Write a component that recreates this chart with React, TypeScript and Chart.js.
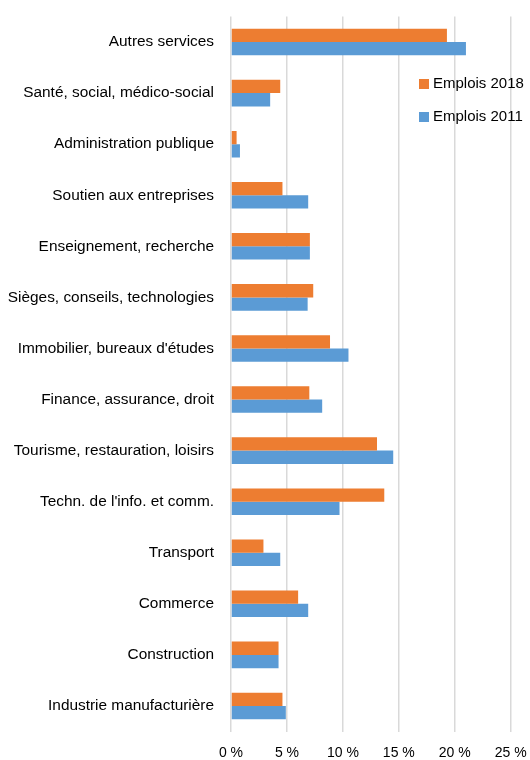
import React, { useEffect, useRef } from "react";
import { Chart, registerables } from "chart.js";

Chart.register(...registerables);

const categories = [
  "Autres services",
  "Santé, social, médico-social",
  "Administration publique",
  "Soutien aux entreprises",
  "Enseignement, recherche",
  "Sièges, conseils, technologies",
  "Immobilier, bureaux d'études",
  "Finance, assurance, droit",
  "Tourisme, restauration, loisirs",
  "Techn. de l'info. et comm.",
  "Transport",
  "Commerce",
  "Construction",
  "Industrie manufacturière",
];

const emplois2018 = [19.3, 4.4, 0.5, 4.6, 7.05, 7.35, 8.85, 7.0, 13.05, 13.7, 2.9, 6.0, 4.25, 4.6];
const emplois2011 = [21.0, 3.5, 0.8, 6.9, 7.05, 6.85, 10.5, 8.15, 14.5, 9.7, 4.4, 6.9, 4.25, 4.9];

const xTicks = [0, 5, 10, 15, 20, 25];
const seriesNames = ["Emplois 2018", "Emplois 2011"];
const seriesColors = ["#ED7D31", "#5B9BD5"];

const FONT = "'Liberation Sans', Arial, sans-serif";

const legendPlugin = {
  id: "insideLegend",
  afterDraw(chart: any) {
    const ctx = chart.ctx;
    ctx.save();
    ctx.font = `15px ${FONT}`;
    ctx.textBaseline = "middle";
    ctx.textAlign = "left";
    seriesNames.forEach((name, i) => {
      const y = 84 + i * 33;
      ctx.fillStyle = seriesColors[i];
      ctx.fillRect(419, y - 5, 10, 10);
      ctx.fillStyle = "#000";
      ctx.fillText(name, 433, y);
    });
    ctx.restore();
  },
};

export default function App() {
  const ref = useRef<HTMLCanvasElement | null>(null);
  useEffect(() => {
    if (!ref.current) return;
    const chart = new Chart(ref.current, {
      type: "bar",
      data: {
        labels: categories,
        datasets: [
          {
            label: seriesNames[0],
            data: emplois2018,
            backgroundColor: seriesColors[0],
            barPercentage: 1,
            categoryPercentage: 0.52,
          },
          {
            label: seriesNames[1],
            data: emplois2011,
            backgroundColor: seriesColors[1],
            barPercentage: 1,
            categoryPercentage: 0.52,
          },
        ],
      },
      options: {
        indexAxis: "y",
        animation: false,
        responsive: true,
        maintainAspectRatio: false,
        layout: { padding: { top: 16.5, right: 19.3, left: 0, bottom: 0 } },
        plugins: {
          legend: { display: false },
          tooltip: { enabled: false },
        },
        scales: {
          x: {
            min: 0,
            max: 25,
            afterBuildTicks: (axis: any) => {
              axis.ticks = xTicks.map((v) => ({ value: v }));
            },
            afterFit: (axis: any) => {
              axis.height = 28.5;
              axis.paddingLeft = 0;
              axis.paddingRight = 0;
              axis.paddingTop = 0;
              axis.paddingBottom = 0;
            },
            grid: { color: "#d9d9d9", lineWidth: 1.5, drawTicks: false },
            border: { display: false },
            ticks: {
              padding: 13,
              color: "#000",
              font: { family: FONT, size: 14 },
              callback: (v: any) => `${v} %`,
            },
          },
          y: {
            afterFit: (axis: any) => {
              axis.width = 231;
              axis.paddingLeft = 0;
              axis.paddingRight = 0;
              axis.paddingTop = 0;
              axis.paddingBottom = 0;
            },
            grid: { display: false, drawTicks: false },
            border: { display: false },
            ticks: {
              padding: 17,
              color: "#000",
              font: { family: FONT, size: 15.4 },
              autoSkip: false,
            },
          },
        },
      },
      plugins: [legendPlugin],
    });
    return () => chart.destroy();
  }, []);
  return (
    <div style={{ position: "absolute", left: 0, top: 0, width: 530, height: 760, background: "#fff" }}>
      <canvas ref={ref} />
    </div>
  );
}
